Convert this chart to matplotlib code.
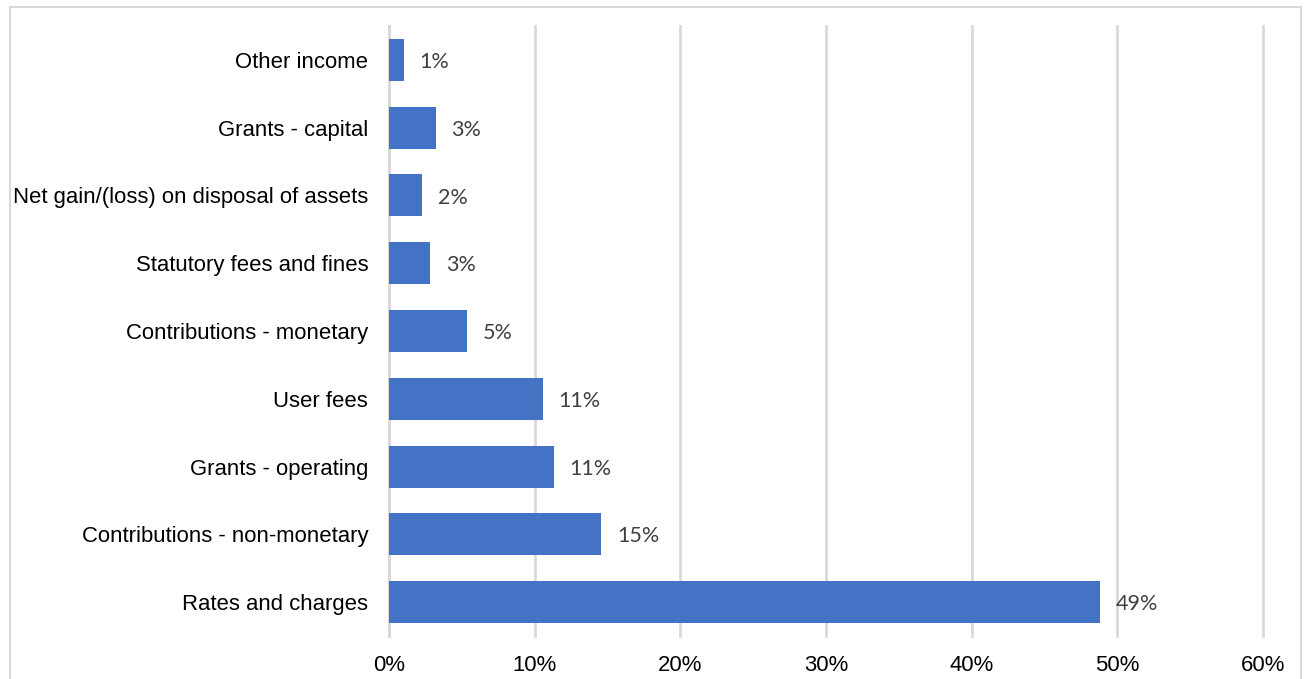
import matplotlib.pyplot as plt
from matplotlib.patches import Rectangle

categories = ['Rates and charges', 'Contributions - non-monetary', 'Grants - operating',
              'User fees', 'Contributions - monetary', 'Statutory fees and fines',
              'Net gain/(loss) on disposal of assets', 'Grants - capital', 'Other income']
values = [48.8, 14.55, 11.3, 10.55, 5.35, 2.8, 2.25, 3.2, 1.0]
xticks = [0, 10, 20, 30, 40, 50, 60]

fig = plt.figure(figsize=(13.06, 6.79), dpi=100)
ax = fig.add_axes([389/1306, 43/679, 874/1306, 610/679])

# outer chart border
fig.patches.append(Rectangle((10/1306, -0.05), 1291/1306, 1.05 - 7/679,
                             transform=fig.transFigure, fill=False,
                             edgecolor='#D9D9D9', linewidth=1.5))

y = range(len(categories))
ax.barh(y, values, height=0.62, color='#4472C4', zorder=3)
for yi, v in zip(y, values):
    ax.annotate(f'{v:.0f}%', (v, yi), xytext=(11.5, -1.5), textcoords='offset points',
                va='center', ha='left', fontsize=15.5, color='#404040', family='Lato')

ax.set_xlim(0, 60)
ax.set_ylim(-0.5, len(categories) - 0.5)
ax.set_xticks(xticks)
ax.set_xticklabels([f'{t}%' for t in xticks])
ax.set_yticks(list(y))
ax.set_yticklabels(categories)
ax.tick_params(length=0, labelsize=15.9, labelcolor='black')
ax.tick_params(axis='x', pad=14)
ax.tick_params(axis='y', pad=15)
for lab in ax.get_xticklabels() + ax.get_yticklabels():
    lab.set_family('Liberation Sans')

ax.grid(axis='x', color='#D9D9D9', linewidth=2, zorder=0)
for gl in ax.get_xgridlines():
    gl.set_clip_on(False)
for s in ['top', 'right', 'bottom']:
    ax.spines[s].set_visible(False)
ax.spines['left'].set_color('#D9D9D9')
ax.spines['left'].set_linewidth(2)

fig.savefig('out.png', dpi=100)
